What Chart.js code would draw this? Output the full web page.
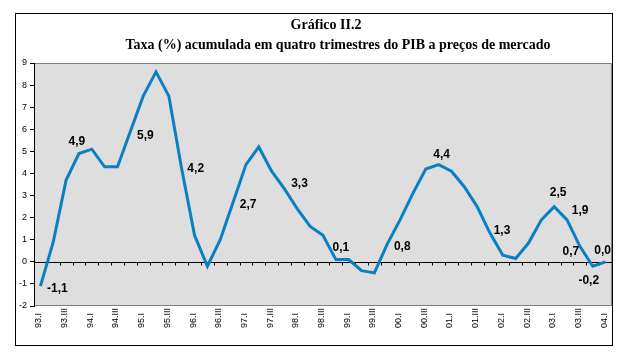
<!DOCTYPE html>
<html>
<head>
<meta charset="utf-8">
<script src="https://cdn.jsdelivr.net/npm/chart.js@4"></script>
<style>
  html, body { margin: 0; padding: 0; background: #fff; }
  #wrap { width: 631px; height: 364px; }
</style>
</head>
<body>
<div id="wrap"><canvas id="chart" width="631" height="364"></canvas></div>
<script>
/* ── Data ── */
const quarters = [
  '93.I','93.II','93.III','93.IV','94.I','94.II','94.III','94.IV',
  '95.I','95.II','95.III','95.IV','96.I','96.II','96.III','96.IV',
  '97.I','97.II','97.III','97.IV','98.I','98.II','98.III','98.IV',
  '99.I','99.II','99.III','99.IV','00.I','00.II','00.III','00.IV',
  '01.I','01.II','01.III','01.IV','02.I','02.II','02.III','02.IV',
  '03.I','03.II','03.III','03.IV','04.I'
];
const growth = [
  -1.1, 0.9, 3.7, 4.9, 5.1, 4.3, 4.3, 5.9,
  7.5, 8.6, 7.5, 4.2, 1.2, -0.2, 1.0, 2.7,
  4.4, 5.2, 4.1, 3.3, 2.4, 1.6, 1.2, 0.1,
  0.1, -0.4, -0.5, 0.8, 1.9, 3.1, 4.2, 4.4,
  4.1, 3.4, 2.5, 1.3, 0.3, 0.15, 0.85, 1.9,
  2.5, 1.9, 0.7, -0.2, 0.0
];
const labelledPoints = [0, 3, 7, 11, 15, 19, 23, 27, 31, 35, 40, 41, 42, 43, 44];
const yMin = -2, yMax = 9;

const titleLines = ['Gráfico II.2', 'Taxa (%) acumulada em quatro trimestres do PIB a preços de mercado'];

// where each value label sits relative to its point (px)
const labelOffsets = {
  0: [17, 3], 3: [-2, -12], 7: [15, 4], 11: [14, 0], 15: [15, 3],
  19: [15, -5], 23: [5, -12], 27: [15, 3], 31: [3, -10], 35: [12, -2],
  40: [4, -14], 41: [13, -9], 42: [-9, 5], 43: [-4, 14], 44: [-3, -11]
};

const fmt = v => v.toFixed(1).replace('.', ',');

/* ── Plugins ── */
const frame = {
  id: 'frame',
  beforeDraw(chart) {
    const { ctx, chartArea: a } = chart;
    ctx.save();
    ctx.fillStyle = '#dedede';
    ctx.fillRect(a.left, a.top, a.right - a.left, a.bottom - a.top);
    ctx.strokeStyle = '#808080';
    ctx.lineWidth = 1;
    ctx.beginPath();
    ctx.moveTo(a.left, a.top + 0.5);
    ctx.lineTo(a.right - 0.5, a.top + 0.5);
    ctx.lineTo(a.right - 0.5, a.bottom - 0.5);
    ctx.lineTo(a.left, a.bottom - 0.5);
    ctx.stroke();
    // title
    ctx.fillStyle = '#000';
    ctx.font = 'bold 14px "Liberation Serif", "Times New Roman", serif';
    ctx.textAlign = 'center';
    ctx.textBaseline = 'middle';
    ctx.fillText(titleLines[0], 326, 25);
    ctx.fillText(titleLines[1], 338, 45);
    ctx.restore();
  },
  afterDraw(chart) {
    const { ctx } = chart;
    ctx.save();
    ctx.strokeStyle = '#000';
    ctx.lineWidth = 1;
    ctx.strokeRect(15.5, 13.5, 597, 332);
    ctx.restore();
  }
};

const zeroAxis = {
  id: 'zeroAxis',
  beforeDatasetsDraw(chart) {
    const { ctx, chartArea: a } = chart;
    const xs = chart.scales.x, ys = chart.scales.y;
    const y0 = Math.round(ys.getPixelForValue(0)) + 0.5;
    const step = xs.getPixelForValue(1) - xs.getPixelForValue(0);
    ctx.save();
    ctx.strokeStyle = '#000';
    ctx.lineWidth = 1;
    ctx.beginPath();
    ctx.moveTo(a.left, y0);
    ctx.lineTo(a.right, y0);
    for (let i = 0; i <= quarters.length; i++) {
      const x = Math.round(xs.getPixelForValue(0) - step / 2 + i * step) + 0.5;
      ctx.moveTo(x, y0);
      ctx.lineTo(x, y0 + 3);
    }
    ctx.stroke();
    ctx.restore();
  },
  afterDraw(chart) {
    const { ctx } = chart;
    const xs = chart.scales.x;
    ctx.save();
    ctx.fillStyle = '#000';
    ctx.font = '9px "Liberation Sans", Arial, sans-serif';
    ctx.textAlign = 'left';
    ctx.textBaseline = 'middle';
    quarters.forEach((q, i) => {
      if (i % 2) return;
      ctx.save();
      ctx.translate(Math.round(xs.getPixelForValue(i)) - 1, 328);
      ctx.rotate(-Math.PI / 2);
      ctx.fillText(q, 0, 0);
      ctx.restore();
    });
    ctx.restore();
  }
};

const valueLabels = {
  id: 'valueLabels',
  afterDatasetsDraw(chart) {
    const { ctx } = chart;
    const meta = chart.getDatasetMeta(0);
    ctx.save();
    ctx.fillStyle = '#000';
    ctx.font = 'bold 12px "Liberation Sans", Arial, sans-serif';
    ctx.textAlign = 'center';
    ctx.textBaseline = 'middle';
    labelledPoints.forEach(i => {
      const p = meta.data[i];
      const [dx, dy] = labelOffsets[i];
      ctx.fillText(fmt(growth[i]), p.x + dx, p.y + dy);
    });
    ctx.restore();
  }
};

/* ── Chart ── */
new Chart(document.getElementById('chart'), {
  type: 'line',
  data: {
    labels: quarters,
    datasets: [{
      data: growth,
      borderColor: '#0a80c2',
      borderWidth: 3,
      pointRadius: 0,
      tension: 0,
      fill: false
    }]
  },
  options: {
    responsive: false,
    animation: false,
    layout: { padding: { top: 63, right: 19, bottom: 0, left: 0 } },
    plugins: { legend: { display: false }, tooltip: { enabled: false } },
    scales: {
      x: {
        offset: true,
        grid: { display: false },
        border: { display: false },
        ticks: { display: false },
        afterFit: s => { s.height = 58; }
      },
      y: {
        min: yMin, max: yMax,
        ticks: {
          stepSize: 1,
          color: '#000',
          padding: 3,
          font: { family: '"Liberation Sans", Arial, sans-serif', size: 9 }
        },
        grid: { drawOnChartArea: false, drawTicks: true, tickLength: 4, color: '#000' },
        border: { display: true, color: '#000', width: 1 },
        afterFit: s => { s.width = 34; }
      }
    }
  },
  plugins: [frame, zeroAxis, valueLabels]
});
</script>
</body>
</html>
